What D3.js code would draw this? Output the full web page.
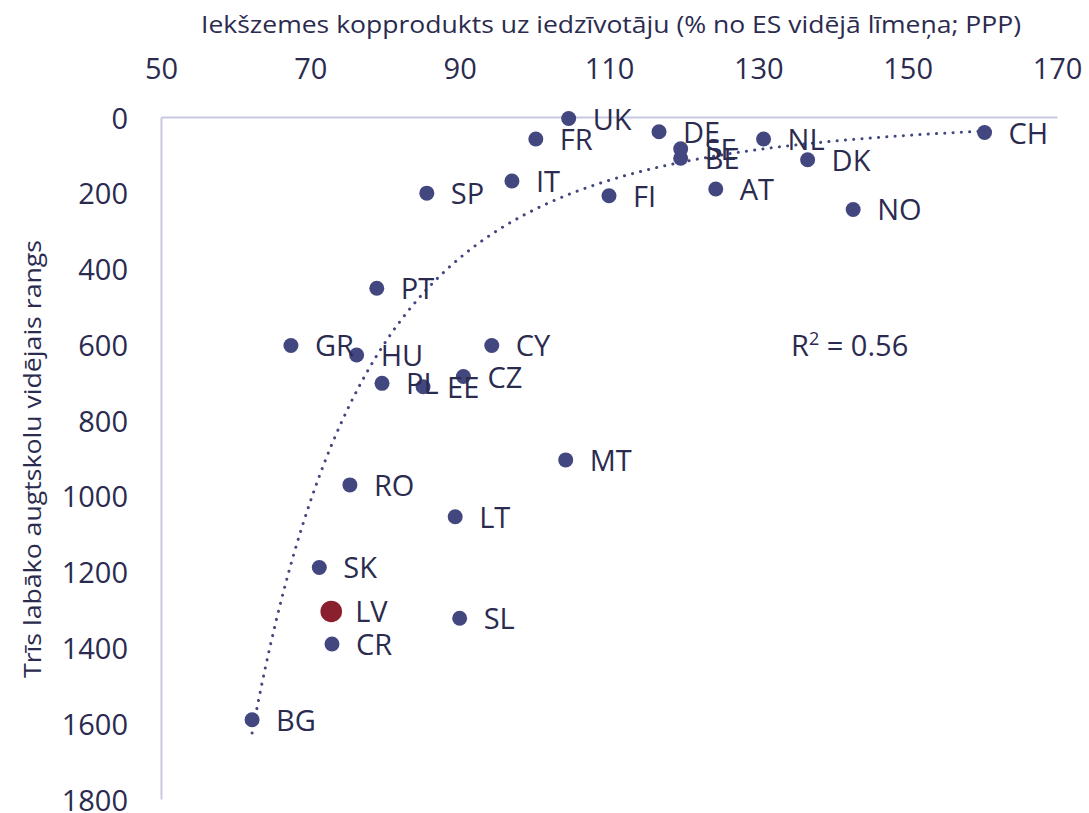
<!DOCTYPE html>
<html>
<head>
<meta charset="utf-8">
<script src="https://cdn.jsdelivr.net/npm/d3@7/dist/d3.min.js"></script>
<style>
  html, body { margin: 0; padding: 0; background: #ffffff; }
  svg { display: block; font-family: "Open Sans", "Noto Sans", sans-serif; }
</style>
</head>
<body>
<svg id="chart" width="1089" height="813"></svg>
<script>
// Country codes, GDP per capita (% of EU average, PPP) and average rank of top-3 universities
const countries = ["UK","FR","DE","SE","BE","NL","SP","IT","FI","AT","DK","CH","NO",
                   "PT","GR","HU","CY","PL","EE","CZ","MT","RO","LT","SK","LV","CR","SL","BG"];
const gdp =       [104.6,100.2,116.7,119.6,119.6,130.7,85.6,97.0,110.0,124.3,136.6,160.3,142.7,
                   78.9,67.4,76.2,94.3,79.6,85.1,90.5,104.2,75.3,89.4,71.2,72.8,72.9,90.0,62.2];
const rank =      [4,58,39,84,109,58,201,169,208,190,113,41,244,
                   452,603,628,603,703,712,685,905,971,1055,1189,1305,1391,1323,1591];
const highlight = ["LV"];

// power trendline: rank = a * gdp^b, with its coefficient of determination
const trendLnA = 23.874;
const trendB = -3.99;
const trendR2 = 0.56;

const xTicks = [50,70,90,110,130,150,170];
const yTicks = [0,200,400,600,800,1000,1200,1400,1600,1800];

const xTitle = "Iekšzemes kopprodukts uz iedzīvotāju (% no ES vidējā līmeņa; PPP)";
const yTitle = "Trīs labāko augtskolu vidējais rangs";

const textColor = "#2b2b50";
const dotColor = "#43477f";
const hiColor = "#8a1f2d";
const axisColor = "#c7c9e2";

const svg = d3.select("#chart");

const x = d3.scaleLinear().domain([50,170]).range([161,1057]);
const y = d3.scaleLinear().domain([0,1800]).range([117,799]);

// top x axis
const gx = svg.append("g").attr("transform", `translate(0,${y(0)})`)
  .call(d3.axisTop(x).tickValues(xTicks).tickFormat(d3.format("d"))
    .tickSize(0).tickSizeOuter(0).tickPadding(38));
// left y axis
const gy = svg.append("g").attr("transform", `translate(${x(50)},0)`)
  .call(d3.axisLeft(y).tickValues(yTicks).tickFormat(d3.format("d"))
    .tickSize(0).tickSizeOuter(0).tickPadding(33));

[gx, gy].forEach(g => {
  g.select(".domain").attr("stroke", axisColor).attr("stroke-width", 2);
  g.selectAll("text").attr("fill", textColor).style("font-size", "29px")
    .style("font-family", "'Open Sans', sans-serif");
});
gy.selectAll("text").attr("dy", "0.38em");

// axis titles
svg.append("text").attr("x", 611).attr("y", 33).attr("text-anchor", "middle")
  .attr("fill", textColor).style("font-size", "24px")
  .attr("textLength", 820).attr("lengthAdjust", "spacingAndGlyphs").text(xTitle);
svg.append("text").attr("transform", "translate(41,459) rotate(-90)")
  .attr("text-anchor", "middle").attr("fill", textColor).style("font-size", "24px")
  .attr("textLength", 438).attr("lengthAdjust", "spacingAndGlyphs").text(yTitle);

const data = countries.map((c,i) => ({c, gx: gdp[i], r: rank[i]}));

// dotted trendline across the range of the data
const [xmin, xmax] = d3.extent(gdp);
const trend = d3.range(0, 201).map(k => {
  const xv = xmin + (xmax - xmin) * k / 200;
  return [xv, Math.exp(trendLnA + trendB * Math.log(xv))];
});
svg.append("path")
  .datum(trend)
  .attr("d", d3.line().x(d => x(d[0])).y(d => y(d[1])))
  .attr("fill", "none").attr("stroke", dotColor).attr("stroke-width", 3)
  .attr("stroke-linecap", "round").attr("stroke-dasharray", "0.1 8.2");

// points
svg.append("g").selectAll("circle").data(data).join("circle")
  .attr("cx", d => x(d.gx)).attr("cy", d => y(d.r))
  .attr("r", d => highlight.includes(d.c) ? 10.8 : 7.5)
  .attr("fill", d => highlight.includes(d.c) ? hiColor : dotColor);

// point labels
svg.append("g").selectAll("text").data(data).join("text")
  .attr("x", d => x(d.gx) + 24).attr("y", d => y(d.r) + 11)
  .attr("fill", textColor).style("font-size", "29px").text(d => d.c);

// R² annotation
const rt = svg.append("text").attr("x", 791).attr("y", 356)
  .attr("fill", textColor).style("font-size", "29px");
rt.append("tspan").text("R");
rt.append("tspan").attr("dy", -11).style("font-size", "18px").text("2");
rt.append("tspan").attr("dy", 11).text(" = " + trendR2.toFixed(2));
</script>
</body>
</html>
